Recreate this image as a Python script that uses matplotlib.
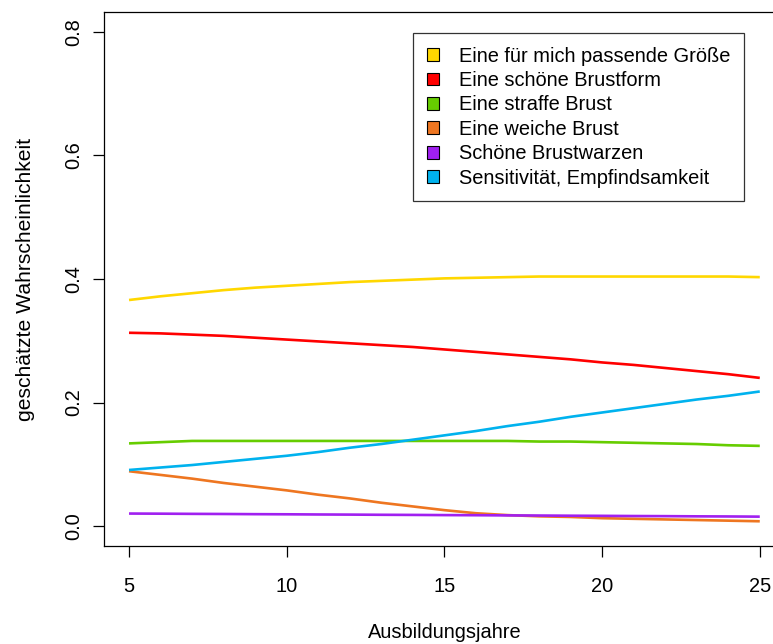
import matplotlib
matplotlib.use("Agg")
import matplotlib.pyplot as plt
from matplotlib.patches import Patch

plt.rcParams['font.family'] = ['Liberation Sans', 'DejaVu Sans']

years = list(range(5, 26))
labels = ["Eine für mich passende Größe", "Eine schöne Brustform", "Eine straffe Brust",
          "Eine weiche Brust", "Schöne Brustwarzen", "Sensitivität, Empfindsamkeit"]
colors = ["#FFD700", "#FF0000", "#66CD00", "#EE7621", "#A020F0", "#00B2EE"]

groesse = [0.366, 0.372, 0.377, 0.382, 0.386, 0.389, 0.392, 0.395, 0.397, 0.399, 0.401,
           0.402, 0.403, 0.404, 0.404, 0.404, 0.404, 0.404, 0.404, 0.404, 0.403]
brustform = [0.313, 0.312, 0.310, 0.308, 0.305, 0.302, 0.299, 0.296, 0.293, 0.290, 0.286,
             0.282, 0.278, 0.274, 0.270, 0.265, 0.261, 0.256, 0.251, 0.246, 0.240]
straff = [0.134, 0.136, 0.138, 0.138, 0.138, 0.138, 0.138, 0.138, 0.138, 0.138, 0.138,
          0.138, 0.138, 0.137, 0.137, 0.136, 0.135, 0.134, 0.133, 0.131, 0.130]
weich = [0.089, 0.083, 0.077, 0.070, 0.064, 0.058, 0.051, 0.045, 0.038, 0.032, 0.026,
         0.021, 0.018, 0.016, 0.015, 0.013, 0.012, 0.011, 0.010, 0.009, 0.008]
warzen = [0.0205, 0.0203, 0.0200, 0.0198, 0.0195, 0.0193, 0.0190, 0.0188, 0.0185, 0.0183, 0.0180,
          0.0178, 0.0175, 0.0173, 0.0170, 0.0168, 0.0165, 0.0163, 0.0160, 0.0158, 0.0155]
sensitiv = [0.091, 0.095, 0.099, 0.104, 0.109, 0.114, 0.120, 0.127, 0.133, 0.140, 0.147,
            0.154, 0.162, 0.169, 0.177, 0.184, 0.191, 0.198, 0.205, 0.211, 0.218]

series = [groesse, brustform, straff, weich, warzen, sensitiv]

fig = plt.figure(figsize=(7.73, 6.44), dpi=100)
ax = fig.add_axes([103.8/773, 1-546/644, (785-103.8)/773, (546-12)/644])

for s, c in zip(series, colors):
    ax.plot(years, s, color=c, lw=1.9, solid_capstyle='butt')

ax.set_xlim(4.2, 25.8)
ax.set_ylim(-0.032, 0.832)
ax.set_xticks([5, 10, 15, 20, 25])
ax.set_yticks([0.0, 0.2, 0.4, 0.6, 0.8])
ax.set_yticklabels(["0.0", "0.2", "0.4", "0.6", "0.8"], rotation=90, va='center')
ax.tick_params(axis='both', length=8, width=0.9, labelsize=14.4)
ax.tick_params(axis='x', pad=14)
ax.tick_params(axis='y', pad=7)
for sp in ax.spines.values():
    sp.set_linewidth(0.9)
ax.set_xlabel("Ausbildungsjahre", fontsize=14.4, labelpad=20)
ax.set_ylabel("geschätzte Wahrscheinlichkeit", fontsize=15.2, labelpad=21)

handles = [Patch(facecolor=c, edgecolor='black', linewidth=0.8) for c in colors]
leg = fig.legend(handles, labels, loc='upper left', bbox_to_anchor=(413/773, 1-33/644),
                 fontsize=14.4, frameon=True, fancybox=False, edgecolor='black',
                 handlelength=0.6, handleheight=0.6, handletextpad=1.0, labelspacing=0.27,
                 borderpad=0.68, borderaxespad=0)
leg.get_frame().set_linewidth(0.9)

fig.savefig("out.png", dpi=100)
